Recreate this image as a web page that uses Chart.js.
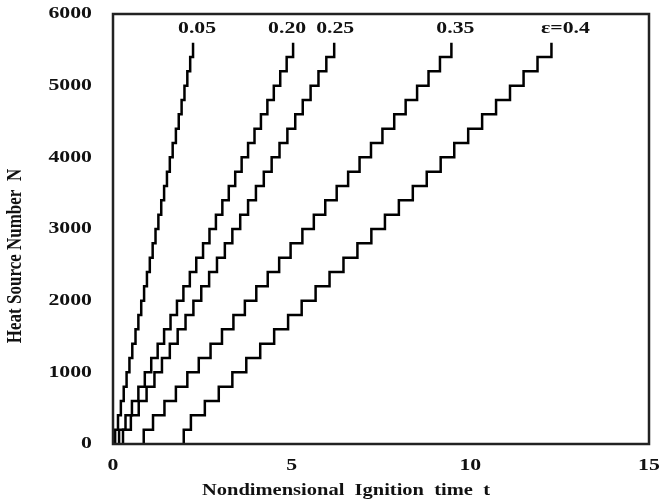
<!DOCTYPE html>
<html lang="en">
<head>
  <meta charset="UTF-8" />
  <title>Heat Source Ignition Steps</title>
  <script src="https://cdn.jsdelivr.net/npm/chart.js"></script>
  <style>
    * { margin: 0; padding: 0; box-sizing: border-box; }
    body { background: #fff; width: 661px; height: 502px; overflow: hidden; }
    #wrap { width: 661px; height: 502px; }
  </style>
</head>
<body>
  <div id="wrap"><canvas id="ignChart" width="661" height="502"></canvas></div>

  <script>
    // heat source count reached after each ignition step
    const stepLevels = [200, 400, 600, 800, 1000, 1200, 1400, 1600, 1800, 2000, 2200, 2400, 2600, 2800,
                        3000, 3200, 3400, 3600, 3800, 4000, 4200, 4400, 4600, 4800, 5000, 5200, 5400, 5600];

    // nondimensional ignition time of each step, one list per porosity
    const tEps005 = [0.06, 0.14, 0.22, 0.30, 0.38, 0.46, 0.54, 0.63, 0.71, 0.79, 0.87, 0.95, 1.03, 1.11,
                     1.19, 1.27, 1.35, 1.43, 1.51, 1.59, 1.67, 1.76, 1.84, 1.92, 2.00, 2.08, 2.16, 2.24];
    const tEps020 = [0.17, 0.35, 0.53, 0.71, 0.89, 1.07, 1.25, 1.43, 1.61, 1.79, 1.97, 2.15, 2.33, 2.52,
                     2.70, 2.88, 3.06, 3.24, 3.42, 3.60, 3.78, 3.96, 4.14, 4.32, 4.50, 4.68, 4.86, 5.04];
    const tEps025 = [0.28, 0.50, 0.72, 0.94, 1.16, 1.37, 1.59, 1.81, 2.03, 2.25, 2.47, 2.69, 2.91, 3.13,
                     3.34, 3.56, 3.78, 4.00, 4.22, 4.44, 4.66, 4.88, 5.10, 5.31, 5.53, 5.75, 5.97, 6.19];
    const tEps035 = [0.86, 1.12, 1.44, 1.76, 2.08, 2.40, 2.73, 3.05, 3.37, 3.69, 4.01, 4.33, 4.65, 4.97,
                     5.30, 5.62, 5.94, 6.26, 6.58, 6.90, 7.22, 7.54, 7.87, 8.19, 8.51, 8.83, 9.15, 9.47];
    const tEps040 = [1.98, 2.18, 2.57, 2.96, 3.34, 3.73, 4.12, 4.51, 4.90, 5.28, 5.67, 6.06, 6.45, 6.84,
                     7.23, 7.61, 8.00, 8.39, 8.78, 9.17, 9.55, 9.94, 10.33, 10.72, 11.11, 11.49, 11.88, 12.27];

    const curveNames = ['0.05', '0.20', '0.25', '0.35', 'ε=0.4'];
    const xTicks = [0, 5, 10, 15];
    const yTicks = [0, 1000, 2000, 3000, 4000, 5000, 6000];

    const SERIF = '"Liberation Serif", "Times New Roman", serif';
    const STRETCH = 1.28;   // the lettering is drawn wide

    function wideText(ctx, text, x, y, size, align, vertical) {
      ctx.save();
      ctx.translate(x, y);
      if (vertical) { ctx.rotate(-Math.PI / 2); ctx.scale(1, STRETCH); }
      else ctx.scale(STRETCH, 1);
      ctx.font = 'bold ' + size + 'px ' + SERIF;
      ctx.textAlign = align;
      ctx.textBaseline = 'middle';
      ctx.fillStyle = '#111';
      ctx.fillText(text, 0, 0);
      ctx.restore();
    }

    // staircase: start on the axis, then one step per ignition
    function stairPoints(times) {
      return [{ x: times[0], y: 0 }].concat(times.map((t, i) => ({ x: t, y: stepLevels[i] })));
    }

    const series = [tEps005, tEps020, tEps025, tEps035, tEps040];

    const frameAndText = {
      id: 'frameAndText',
      afterDraw(chart, args, opts) {
        const ctx = chart.ctx;
        const a = chart.chartArea;
        const xs = chart.scales.x, ys = chart.scales.y;

        ctx.save();
        ctx.strokeStyle = '#222';
        ctx.lineWidth = 2.5;
        ctx.strokeRect(a.left, a.top, a.right - a.left, a.bottom - a.top);
        ctx.restore();

        yTicks.forEach(v => wideText(ctx, String(v), a.left - 21, ys.getPixelForValue(v), 17, 'right'));
        xTicks.forEach(v => wideText(ctx, String(v), xs.getPixelForValue(v), a.bottom + 22, 17, 'center'));

        wideText(ctx, 'Nondimensional  Ignition  time  t', (a.left + a.right) / 2 - 35, a.bottom + 47, 16, 'center');
        wideText(ctx, 'Heat Source Number  N', 15, (a.top + a.bottom) / 2 + 27, 17, 'center', true);

        chart.data.datasets.forEach((ds, i) => {
          const pts = chart.getDatasetMeta(i).data;
          const end = pts[pts.length - 1];
          wideText(ctx, ds.label, end.x + opts.dx[i], end.y - 14, 17, 'center');
        });
      }
    };

    new Chart(document.getElementById('ignChart'), {
      type: 'line',
      data: {
        datasets: series.map((times, i) => ({
          label: curveNames[i],
          data: stairPoints(times),
          stepped: 'before',
          borderColor: '#000',
          borderWidth: 2.5,
          pointRadius: 0,
          fill: false
        }))
      },
      options: {
        responsive: false,
        animation: false,
        layout: { padding: { left: 113, top: 14, right: 12, bottom: 58 } },
        plugins: {
          legend: { display: false },
          tooltip: { enabled: false },
          frameAndText: { dx: [4, -6, 1, 4, 14] }
        },
        scales: {
          x: { type: 'linear', min: 0, max: 15, display: false },
          y: { type: 'linear', min: 0, max: 6000, display: false }
        }
      },
      plugins: [frameAndText]
    });
  </script>
</body>
</html>
